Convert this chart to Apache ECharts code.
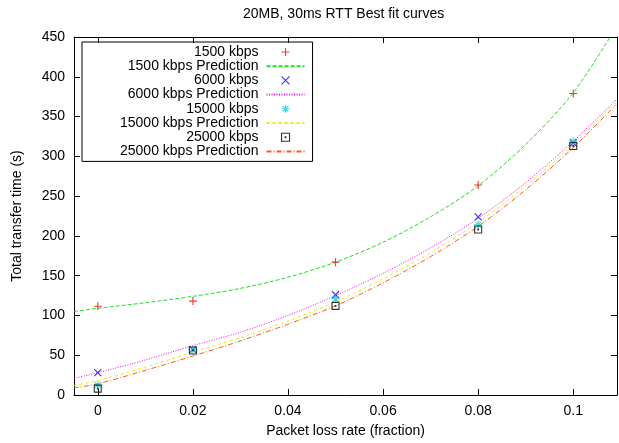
<!DOCTYPE html>
<html>
<head>
<meta charset="utf-8">
<script src="https://cdn.jsdelivr.net/npm/echarts@6/dist/echarts.min.js"></script>
<style>html,body{margin:0;padding:0;background:#fff;}#c{width:619px;height:443px;}</style>
</head>
<body>
<div id="c"></div>
<script>
// ---- data ----
const pointX = [0, 0.02, 0.05, 0.08, 0.1];
const meas1500 = [111.5, 118, 167, 264, 379];
const meas6000 = [28, 57, 126, 224, 317];
const meas15000 = [12.5, 57, 121, 214, 319];
const meas25000 = [8, 56, 112, 208, 313];

const curveX = [-0.005, 0, 0.01, 0.02, 0.03, 0.04, 0.05, 0.06, 0.07, 0.08, 0.09, 0.1, 0.109];
const pred1500 = [105, 109, 116, 124, 134, 148, 167, 192, 224, 263, 315, 380, 462];
const pred6000 = [21, 28, 44, 62, 79, 100, 125, 153, 185, 222, 267, 319, 371];
const pred15000 = [12, 18, 35, 54, 72, 93, 117, 146, 179, 217, 263, 315, 368];
const pred25000 = [9, 14, 31, 49, 68, 89, 112, 141, 174, 212, 258, 311, 365];

const xTicks = [0, 0.02, 0.04, 0.06, 0.08, 0.1];
const seriesNames = ['1500 kbps', '1500 kbps Prediction', '6000 kbps', '6000 kbps Prediction',
  '15000 kbps', '15000 kbps Prediction', '25000 kbps', '25000 kbps Prediction'];
const titleText = '20MB, 30ms RTT Best fit curves';
const xName = 'Packet loss rate (fraction)';
const yName = 'Total transfer time (s)';

// ---- styling ----
const FONT = 'Liberation Sans, Arial, sans-serif';
const PLUS = 'path://M0,5L10,5M5,0L5,10';
const CROSS = 'path://M0,0L10,10M0,10L10,0';
const STAR = 'path://M0,5L10,5M5,0L5,10M1.5,1.5L8.5,8.5M1.5,8.5L8.5,1.5';
const BOX = 'path://M0,0L10,0L10,10L0,10ZM4.5,4.5L5.5,4.5L5.5,5.5L4.5,5.5Z';

function pts(ys) { return pointX.map((x, i) => [x, ys[i]]); }
function crv(ys) { return curveX.map((x, i) => [x, ys[i]]); }

function scatter(name, ys, sym, color, size) {
  return {
    name, type: 'scatter', data: pts(ys), symbol: sym, symbolSize: size,
    itemStyle: { color: 'transparent', borderColor: color, borderWidth: 1.1 },
    z: 5
  };
}
function curve(name, ys, color, dash) {
  return {
    name, type: 'line', data: crv(ys), showSymbol: false, symbol: 'none', smooth: 0.3,
    lineStyle: { color, width: 1, type: dash }, itemStyle: { color },
    clip: true, z: 3
  };
}

const colors = {
  r: '#ff0000', g: '#1ee01e', b: '#0000ff', m: '#ff00ff',
  c: '#00dcdc', y: '#eeee00', k: '#000000', o: '#ff5a1a'
};

const series = [
  scatter(seriesNames[0], meas1500, PLUS, colors.r, 8),
  curve(seriesNames[1], pred1500, colors.g, [4, 2]),
  scatter(seriesNames[2], meas6000, CROSS, colors.b, 7),
  curve(seriesNames[3], pred6000, colors.m, [1, 1.5]),
  scatter(seriesNames[4], meas15000, STAR, colors.c, 8),
  curve(seriesNames[5], pred15000, colors.y, [3, 3]),
  scatter(seriesNames[6], meas25000, BOX, colors.k, 7),
  curve(seriesNames[7], pred25000, colors.o, [5, 2, 1, 2])
];

const noSym = { color: 'transparent', borderWidth: 0, opacity: 0 };
const legendData = [
  { name: seriesNames[0], icon: PLUS, itemStyle: { color: 'transparent', borderColor: colors.r, borderWidth: 1.1 } },
  { name: seriesNames[1], itemStyle: noSym },
  { name: seriesNames[2], icon: CROSS, itemStyle: { color: 'transparent', borderColor: colors.b, borderWidth: 1.1 } },
  { name: seriesNames[3], itemStyle: noSym },
  { name: seriesNames[4], icon: STAR, itemStyle: { color: 'transparent', borderColor: colors.c, borderWidth: 1.1 } },
  { name: seriesNames[5], itemStyle: noSym },
  { name: seriesNames[6], icon: BOX, itemStyle: { color: 'transparent', borderColor: colors.k, borderWidth: 1.1 } },
  { name: seriesNames[7], itemStyle: noSym }
];

const axisLineStyle = { show: true, lineStyle: { color: '#000', width: 1 } };
const tickStyle = { show: true, inside: true, length: 6, lineStyle: { color: '#000', width: 1 } };

const chart = echarts.init(document.getElementById('c'), null, { renderer: 'canvas' });
chart.setOption({
  animation: false,
  backgroundColor: '#fff',
  title: {
    text: titleText, left: 243, top: 7, padding: 0,
    textStyle: { fontFamily: FONT, fontSize: 14, fontWeight: 'normal', color: '#000' }
  },
  grid: { left: 74, right: 2, top: 37, bottom: 46, containLabel: false },
  legend: {
    orient: 'vertical', align: 'right',
    left: 82, top: 42,
    padding: [3, 7, 3, 38],
    borderColor: '#000', borderWidth: 1,
    itemWidth: 38, itemHeight: 8, itemGap: 0.2,
    selectedMode: false,
    textStyle: { fontFamily: FONT, fontSize: 14, color: '#000', lineHeight: 14, padding: [0, 3, 0, 0] },
    data: legendData
  },
  xAxis: [
    {
      type: 'value', position: 'bottom', min: -0.005, max: 0.1092,
      splitLine: { show: false },
      axisLine: Object.assign({ onZero: false }, axisLineStyle),
      axisTick: Object.assign({ customValues: xTicks }, tickStyle),
      axisLabel: {
        customValues: xTicks, margin: 9, color: '#000', fontFamily: FONT, fontSize: 14,
        formatter: v => String(+v.toFixed(2))
      },
      name: xName, nameLocation: 'middle', nameGap: 29,
      nameTextStyle: { fontFamily: FONT, fontSize: 14, color: '#000' }
    },
    {
      type: 'value', position: 'top', min: -0.005, max: 0.1092,
      splitLine: { show: false },
      axisLine: Object.assign({ onZero: false }, axisLineStyle),
      axisTick: Object.assign({ customValues: xTicks }, tickStyle),
      axisLabel: { show: false, customValues: xTicks }
    }
  ],
  yAxis: [
    {
      type: 'value', position: 'left', min: 0, max: 450, interval: 50,
      splitLine: { show: false },
      axisLine: Object.assign({ onZero: false }, axisLineStyle),
      axisTick: tickStyle,
      axisLabel: { margin: 9, color: '#000', fontFamily: FONT, fontSize: 14 },
      name: yName, nameLocation: 'middle', nameGap: 50,
      nameTextStyle: { fontFamily: FONT, fontSize: 14, color: '#000' }
    },
    {
      type: 'value', position: 'right', min: 0, max: 450, interval: 50,
      splitLine: { show: false },
      axisLine: Object.assign({ onZero: false }, axisLineStyle),
      axisTick: tickStyle,
      axisLabel: { show: false }
    }
  ],
  series: series
});
</script>
</body>
</html>
